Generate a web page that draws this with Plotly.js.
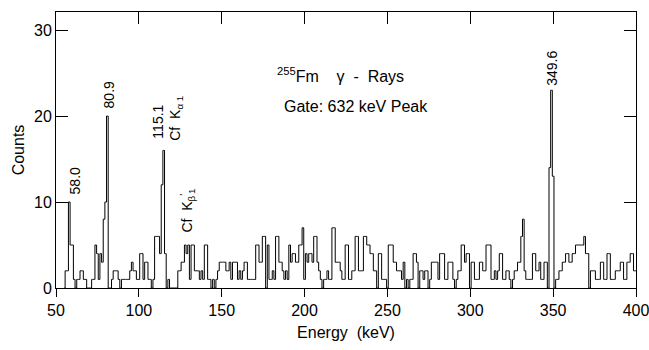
<!DOCTYPE html>
<html>
<head>
<meta charset="utf-8">
<script src="https://cdn.plot.ly/plotly-3.0.1.min.js"></script>
<style>html,body{margin:0;padding:0;background:#fff;}#chart{width:649px;height:350px;}</style>
</head>
<body>
<div id="chart"></div>
<script>
// Histogram bins: 1 keV wide, first bin centred at 55 keV
const binStart = 55;
const binWidth = 1;

// Counts per bin, in segments
const counts055_099 = [0,2,2,10,5,5,1,0,1,1, 2,2,1,1,0,0,0,1,1,5, 4,1,4,3,8,10,20,0,0,1, 2,2,2,1,0,1,1,1,1,1, 2,3,2,2,1];
const counts100_149 = [1,4,4,1,3,3,1,1,0,1, 6,6,6,4,12,16,4,0,1,0, 0,0,0,0,2,2,3,3,5,4, 5,1,5,5,2,2,2,1,2,1, 5,5,1,1,0,1,0,1,2,3];
const counts150_199 = [3,3,3,2,2,3,1,3,3,3, 1,2,1,2,3,3,1,1,1,1, 1,5,5,3,3,6,6,0,5,1, 1,2,1,6,6,3,3,2,1,2, 1,5,3,4,4,3,3,5,5,7];
const counts200_249 = [1,4,3,4,4,3,6,6,3,2, 1,0,1,1,2,1,1,7,7,3, 3,3,2,1,1,5,5,1,1,2, 2,6,6,2,2,2,6,6,5,5, 4,4,2,2,0,4,4,1,1,1];
const counts250_299 = [0,5,5,5,3,3,2,2,2,1, 3,0,1,0,1,1,4,4,3,0, 2,2,1,2,2,0,1,3,3,3, 3,1,4,4,4,1,1,3,3,3, 1,0,1,2,2,5,5,3,4,4];
const counts300_349 = [0,3,3,1,1,1,3,3,2,2, 5,5,5,1,1,2,1,2,4,4, 1,1,2,2,1,0,1,2,2,3, 3,6,8,2,1,1,1,1,4,4, 2,2,3,1,1,3,3,0,14,23];
const counts350_400 = [13,0,1,1,2,2,3,3,4,4, 3,3,4,4,5,5,5,5,5,6, 4,4,0,2,2,2,1,1,1,3, 3,1,1,4,4,1,1,1,2,2, 2,3,3,1,1,3,3,4,4,2, 2];

const counts = [].concat(counts055_099, counts100_149, counts150_199, counts200_249, counts250_299, counts300_349, counts350_400);
const energy = counts.map((_, i) => binStart + i * binWidth);

// Axis ticks
const xTicks = [50, 100, 150, 200, 250, 300, 350, 400];
const yTicks = [0, 10, 20, 30];

// Peak labels
const peakLabels = ['58.0', '80.9', '115.1', 'Cf  K<sub>α 1</sub>', 'Cf  K<sub>β</sub><sup>\u2032</sup><sub>1</sub>', '349.6'];
const peakLabelX = [61.5, 82, 111.3, 122.4, 129, 349.3];
const peakLabelY = [12.4, 22.4, 19.3, 19.8, 9.0, 25.6];

const FONT = 'Liberation Sans, Arial, Helvetica, sans-serif';

const traces = [
  {
    x: energy, y: counts, type: 'scatter', mode: 'lines',
    line: {shape: 'hvh', color: '#000', width: 1},
    hoverinfo: 'x+y', showlegend: false
  },
  {
    x: [xTicks[0]], y: [0], xaxis: 'x2', yaxis: 'y', type: 'scatter', mode: 'markers',
    marker: {opacity: 0}, hoverinfo: 'skip', showlegend: false
  }
];

const annotations = peakLabels.map((t, i) => ({
  text: t, x: peakLabelX[i], y: peakLabelY[i], xref: 'x', yref: 'y',
  xanchor: 'center', yanchor: 'middle',
  textangle: -90, showarrow: false, font: {family: FONT, size: 14, color: '#000'}
}));
annotations.push({
  text: '<sup>255</sup>Fm\u00a0\u00a0\u00a0 γ\u00a0 -\u00a0 Rays', x: 0.49, y: 0.772, xref: 'paper', yref: 'paper',
  xanchor: 'center', yanchor: 'middle',
  showarrow: false, font: {family: FONT, size: 16, color: '#000'}
});
annotations.push({
  text: 'Gate: 632 keV Peak', x: 0.517, y: 0.656, xref: 'paper', yref: 'paper',
  xanchor: 'center', yanchor: 'middle',
  showarrow: false, font: {family: FONT, size: 16, color: '#000'}
});

const layout = {
  width: 649, height: 350,
  margin: {l: 56, r: 13, t: 12, b: 62},
  paper_bgcolor: '#fff', plot_bgcolor: '#fff',
  font: {family: FONT, size: 16, color: '#000'},
  showlegend: false,
  xaxis: {
    range: [50, 400], tickvals: xTicks, ticks: 'outside', ticklen: 8, tickwidth: 1, tickcolor: '#000',
    showline: true, linecolor: '#000', linewidth: 1, mirror: true,
    showgrid: false, zeroline: false, ticklabeloverflow: 'allow',
    tickfont: {family: FONT, size: 16, color: '#000'},
    title: {text: 'Energy\u00a0 (keV)', font: {family: FONT, size: 16, color: '#000'}, standoff: 8}
  },
  xaxis2: {
    range: [50, 400], tickvals: xTicks, ticks: 'inside', ticklen: 12, tickwidth: 1, tickcolor: '#000',
    overlaying: 'x', side: 'top', anchor: 'y',
    showticklabels: false, showline: false, showgrid: false, zeroline: false
  },
  yaxis: {
    range: [0, 32.1], tickvals: yTicks, ticks: 'inside', ticklen: 12, tickwidth: 1, tickcolor: '#000',
    showline: true, linecolor: '#000', linewidth: 1, mirror: 'ticks',
    showgrid: false, zeroline: false, ticklabeloverflow: 'allow',
    tickfont: {family: FONT, size: 16, color: '#000'},
    title: {text: 'Counts', font: {family: FONT, size: 16, color: '#000'}, standoff: 5}
  },
  annotations: annotations
};

Plotly.newPlot('chart', traces, layout, {displayModeBar: false, staticPlot: true});
</script>
</body>
</html>
